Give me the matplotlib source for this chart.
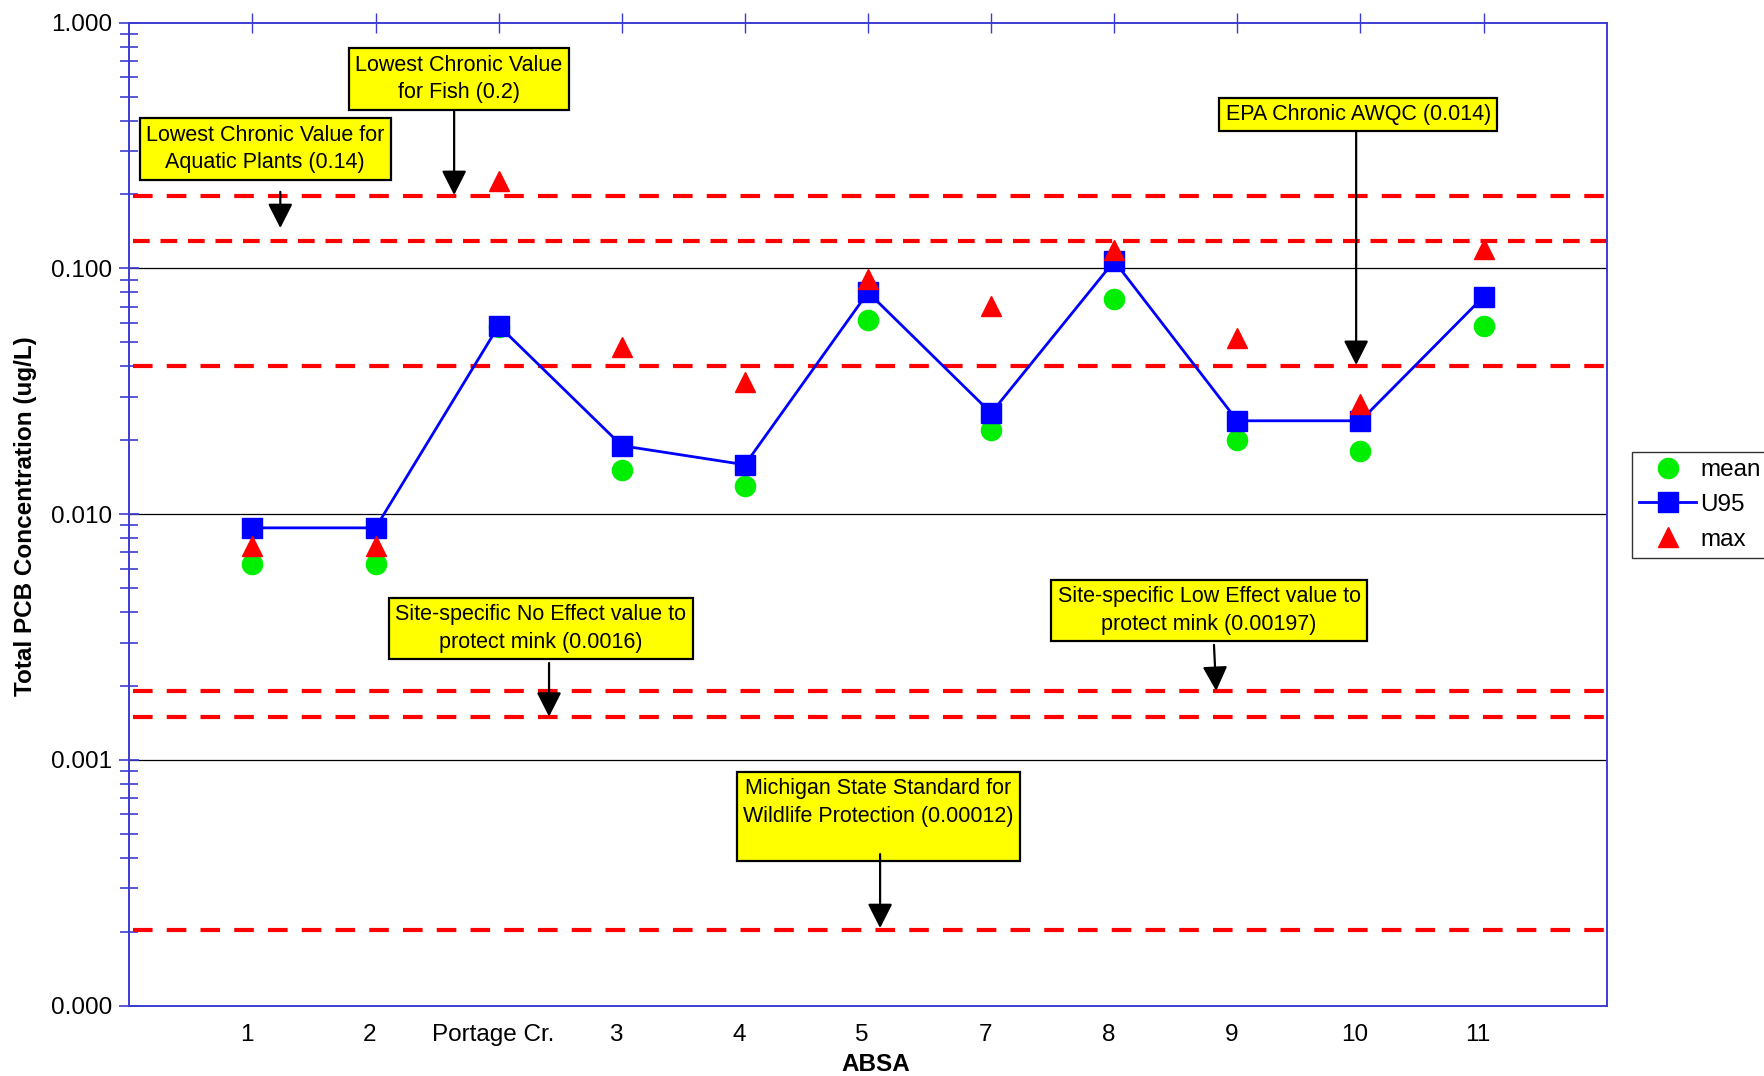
import matplotlib
matplotlib.use("Agg")
import matplotlib.pyplot as plt
from matplotlib.lines import Line2D
from matplotlib.ticker import FixedLocator, LogLocator, NullFormatter
from matplotlib.transforms import ScaledTranslation

plt.rcParams["font.family"] = ["Liberation Sans", "DejaVu Sans"]

# ABSA categories and PCB concentrations (ug/L)
sites = ["1", "2", "Portage Cr.", "3", "4", "5", "7", "8", "9", "10", "11"]
mean_vals = [0.0063, 0.0063, 0.0578, 0.0151, 0.013, 0.0616, 0.0221, 0.0752, 0.020, 0.0181, 0.0583]
u95_vals = [0.0088, 0.0088, 0.0585, 0.019, 0.0159, 0.080, 0.0258, 0.1072, 0.024, 0.024, 0.0768]
max_vals = [0.0074, 0.0074, 0.227, 0.0478, 0.0344, 0.0906, 0.0706, 0.119, 0.052, 0.0281, 0.120]

# reference lines as drawn on the chart
ref_levels = [0.198, 0.1297, 0.040, 0.00191, 0.0015, 0.000204]

# callout boxes: label, text centre (x, y), arrow tail (x, y), arrow tip (x, y)
callouts = [
    ("Lowest Chronic Value for\nAquatic Plants (0.14)", (1.103, 0.306), (1.226, 0.205), (1.226, 0.146)),
    ("Lowest Chronic Value\nfor Fish (0.2)", (2.675, 0.590), (2.638, 0.441), (2.638, 0.199)),
    ("EPA Chronic AWQC (0.014)", (9.982, 0.423), (9.965, 0.359), (9.965, 0.0405)),
    ("Site-specific No Effect value to\nprotect mink (0.0016)", (3.34, 0.00343), (3.409, 0.00248), (3.409, 0.0015)),
    ("Site-specific Low Effect value to\nprotect mink (0.00197)", (8.77, 0.00406), (8.81, 0.00294), (8.828, 0.00191)),
    ("Michigan State Standard for\nWildlife Protection (0.00012)\n ", (6.085, 0.00059), (6.098, 0.000414), (6.098, 0.000207)),
]

spine_color = "#3c3cd2"

fig = plt.figure(figsize=(17.65, 10.76), dpi=100)
ax = fig.add_axes([0.0733, 0.0653, 0.8370, 0.9136])

x = list(range(1, len(sites) + 1))

for i, lvl in enumerate(ref_levels):
    dashes = (4.0, 2.6) if i == 1 else (4.7, 3.4)
    ax.plot([0.03, 12.06], [lvl, lvl], color="#ff0000", lw=3.0, dashes=dashes,
            clip_on=False, zorder=2, solid_capstyle="butt")

for v in [0.1, 0.01, 0.001]:
    ax.axhline(v, color="black", lw=0.9, zorder=1)

ax.plot(x, mean_vals, "o", color="#00ee00", ms=14.5, mec="#00ee00", zorder=4, clip_on=False)
ax.plot(x, u95_vals, "-s", color="#0000ff", lw=2.0, ms=14, mec="#0000ff", zorder=5, clip_on=False)
ax.plot(x, max_vals, "^", color="#ff0000", ms=14.5, mec="#ff0000", zorder=6, clip_on=False)

for text, (tx, ty), (ax0, ay0), (ax1, ay1) in callouts:
    ax.text(tx, ty, text, ha="center", va="center", fontsize=15.5, linespacing=1.42, zorder=7,
            bbox=dict(boxstyle="square,pad=0.3", fc="#ffff00", ec="black", lw=1.6))
    ax.annotate("", xy=(ax1, ay1), xytext=(ax0, ay0), zorder=7,
                arrowprops=dict(arrowstyle="-|>,head_length=0.75,head_width=0.38",
                                color="black", lw=1.6, mutation_scale=20,
                                shrinkA=0, shrinkB=0))

ax.set_yscale("log")
ax.set_ylim(0.0001, 1.0)
ax.set_xlim(0, 12)
ax.yaxis.set_major_locator(FixedLocator([0.0001, 0.001, 0.01, 0.1, 1.0]))
ax.set_yticklabels(["0.000", "0.001", "0.010", "0.100", "1.000"])
ax.yaxis.set_minor_locator(LogLocator(base=10, subs=range(2, 10)))
ax.yaxis.set_minor_formatter(NullFormatter())
ax.tick_params(axis="y", which="major", direction="inout", length=15, width=1.2,
               color=spine_color, labelsize=17.5, pad=5)
ax.tick_params(axis="y", which="minor", direction="inout", length=13, width=1.2,
               color=spine_color)

ax.set_xticks(x)
ax.set_xticklabels(sites)
ax.tick_params(axis="x", which="both", bottom=False, top=True, direction="inout",
               length=15, width=1.0, color=spine_color, labelsize=17.5, pad=6)
offset = ScaledTranslation(-6 / 100, 0, fig.dpi_scale_trans)
for lbl in ax.get_xticklabels():
    lbl.set_transform(lbl.get_transform() + offset)

for sp in ax.spines.values():
    sp.set_color(spine_color)
    sp.set_linewidth(1.4)

fig.text(0.0142, 0.52, "Total PCB Concentration (ug/L)", rotation=90, ha="center", va="center",
         fontsize=17.5, fontweight="bold")
fig.text(0.496, 0.011, "ABSA", ha="center", va="center", fontsize=17.5, fontweight="bold")

handles = [
    Line2D([], [], marker="o", ls="none", color="#00ee00", ms=14.5),
    Line2D([], [], marker="s", ls="-", lw=2.0, color="#0000ff", ms=14),
    Line2D([], [], marker="^", ls="none", color="#ff0000", ms=14.5),
]
fig.legend(handles, ["mean", "U95", "max"], loc="upper left",
           bbox_to_anchor=(1632 / 1765, 1 - 452 / 1076), borderaxespad=0,
           fontsize=17.5, frameon=True, fancybox=False, edgecolor="black",
           handlelength=2.35, handletextpad=0.15, labelspacing=0.52, borderpad=0.3)
fig.legends[0].get_frame().set_linewidth(1.0)

fig.savefig("out.png", dpi=100)
